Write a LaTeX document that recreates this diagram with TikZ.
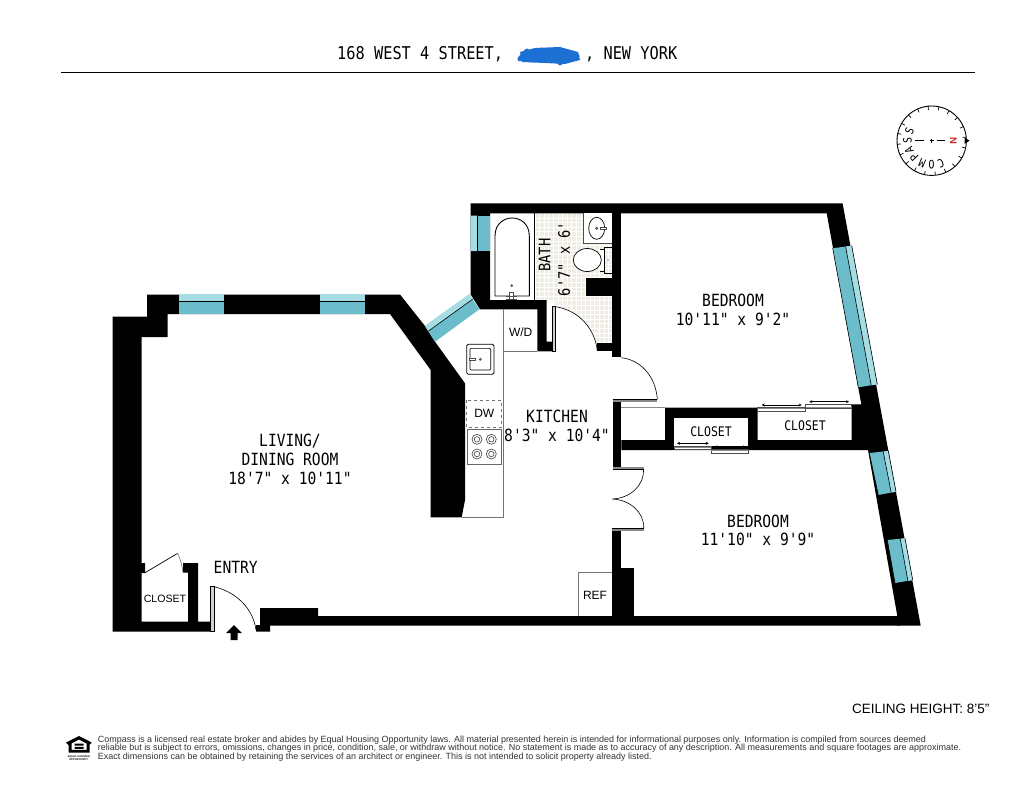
\documentclass[tikz,border=0pt]{standalone}
\usepackage{fontspec}
\usetikzlibrary{calc,arrows.meta}
\setmainfont{Liberation Sans}
\newfontfamily\planfont[FakeStretch=0.87]{DejaVu Sans Mono}
\definecolor{winA}{HTML}{6BBDCB}
\definecolor{winB}{HTML}{A6DCE3}
\definecolor{tile}{HTML}{EFEDE4}
\definecolor{panel}{HTML}{8A8A8A}
\definecolor{blob}{HTML}{1C6FD3}
\definecolor{fineprint}{HTML}{333333}
\tikzset{
  wall/.style={fill=black,draw=none},
  fineline/.style={draw=black!75,line width=0.55pt},
  fix/.style={draw=black,line width=0.7pt,fill=white},
  swing/.style={draw=black,line width=0.6pt},
  doorpanel/.style={draw=black,line width=0.5pt,fill=panel!40},
  roomtext/.style={font=\planfont\fontsize{16.8}{19}\selectfont,align=center,inner sep=0pt,text=black},
  bathtext/.style={font=\planfont\fontsize{15.8}{18}\selectfont,inner sep=0pt,rotate=90,text=black},
  closettext/.style={font=\planfont\fontsize{13.2}{15}\selectfont,inner sep=0pt},
  applitext/.style={font=\fontsize{12}{14}\selectfont,inner sep=0pt},
  slide/.style={{Stealth[length=3pt,width=3pt]}-{Stealth[length=3pt,width=3pt]},line width=0.5pt},
}
% window: outer edge a-b, inner edge d-c, position of the sash line
\newcommand{\glaze}[5]{%
  \coordinate (wa) at #1; \coordinate (wb) at #2; \coordinate (wc) at #3; \coordinate (wd) at #4;
  \coordinate (wp) at ($(wa)!#5!(wd)$); \coordinate (wq) at ($(wb)!#5!(wc)$);
  \fill[winA] (wa) -- (wb) -- (wc) -- (wd) -- cycle;
  \fill[winB] (wa) -- (wb) -- (wq) -- (wp) -- cycle;
  \draw[black,line width=0.6pt] (wp) -- (wq);
}
\begin{document}
\begin{tikzpicture}[x=1pt,y=-1pt]
\useasboundingbox (0,0) rectangle (1036,800);
\fill[white] (0,0) rectangle (1036,800);

% title
\node[roomtext,font=\planfont\fontsize{17.6}{20}\selectfont,anchor=west] (title1) at (337,54) {168 WEST 4 STREET,};
\node[roomtext,font=\planfont\fontsize{17.6}{20}\selectfont,anchor=east] (title2) at (677.5,54) {, NEW YORK};
\fill[blob] (520,52) -- (535,48) -- (560,47) -- (578,52) -- (580,60) -- (565,64) -- (545,63) -- (522,62) -- cycle;
\draw[blob,line width=5pt,line cap=round,line join=round]
  (520,59) -- (527,51) -- (533,60) -- (541,50) -- (548,60) -- (555,50) -- (560,63) -- (568,54) -- (577,56);
\draw[black,line width=1.2pt] (61,72.5) -- (975,72.5);

% tile floor
\begin{scope}
\clip (535,213.3) -- (612,213.3) -- (612,342.7) -- (597.3,342.7) -- (597.3,351) -- (555.3,351) -- (555.3,300) -- (535,300) -- cycle;
\fill[tile] (530,210) rectangle (615,355);
\foreach \gx in {0,...,17} \draw[white,line width=0.7pt] ({535+4.6*\gx},210) -- ({535+4.6*\gx},355);
\foreach \gy in {0,...,30} \draw[white,line width=0.7pt] (530,{213.3+4.6*\gy}) -- (615,{213.3+4.6*\gy});
\end{scope}
\fill[white] (555.3,300) -- (555.3,306.7) .. controls (578,310) and (595,328) .. (597.3,351) -- (555.3,351) -- cycle;

% walls
\fill[wall] (112.7,316.7) -- (147,316.7) -- (147,294.5) -- (400,294.5) -- (425,326) -- (435,341.7) -- (465,383.3) -- (465,500) -- (461.7,517.3) -- (430.7,517.3) -- (430.7,370) -- (390,314) -- (167.5,314) -- (167.5,337) -- (141.7,337) -- (141.7,563) -- (145,563) -- (145,573) -- (141.7,573) -- (141.7,621.7) -- (188,621.7) -- (188,572.7) -- (183,572.7) -- (183,563) -- (198,563) -- (198,621.7) -- (210.7,621.7) -- (210.7,631.7) -- (112.7,631.7) -- cycle;
\fill[wall] (470.7,203.3) -- (842.7,203.3) -- (842.7,213.3) -- (490,213.3) -- (490,300) -- (546.7,300) -- (546.7,341.7) -- (552.7,341.7) -- (552.7,351.3) -- (537.3,351.3) -- (537.3,309.3) -- (480,309.3) -- (470.7,294.5) -- cycle;
\fill[wall] (612,213.3) rectangle (621.3,356.7);
\fill[wall] (597.3,342.7) rectangle (612,351.3);
\fill[wall] (586,278.3) rectangle (612,296);
\fill[wall] (826.7,213.3) -- (842.7,204) -- (920.7,625.7) -- (897.3,625.7) -- (897.3,616) -- (868,450) -- (621.3,450) -- (621.3,440) -- (665,440) -- (665,407.7) -- (757.7,407.7) -- (757.7,440) -- (851.7,440) -- (851.7,404.3) -- (861.3,404.3) -- cycle;
\fill[white] (674.3,417.7) rectangle (748,446);
\fill[wall] (748,440) rectangle (757.7,450);
\fill[wall] (612.7,402) rectangle (621.3,468);
\fill[wall] (612.3,531) rectangle (621.3,616);
\fill[wall] (621.3,568.3) rectangle (634,616);
\fill[wall] (260,608) -- (318,608) -- (318,616) -- (900,616) -- (900,625.7) -- (270,625.7) -- (270,631.7) -- (256,631.7) -- (256,625) -- (260,625) -- cycle;

% windows
\glaze{(179,294.3)}{(224,294.3)}{(224,314)}{(179,314)}{0.35}
\glaze{(320,294.3)}{(365,294.3)}{(365,314)}{(320,314)}{0.35}
\glaze{(469.3,294.3)}{(425,326)}{(435,341.7)}{(479.3,309.3)}{0.33}
\glaze{(470.7,215.7)}{(470.7,251)}{(490,251)}{(490,215.7)}{0.36}
\glaze{(851.7,245.7)}{(877.3,384.3)}{(858.3,387.3)}{(832.7,248.3)}{0.32}
\glaze{(888.3,451)}{(896,491.7)}{(878.3,495)}{(869.3,453)}{0.27}
\glaze{(905,538.3)}{(912.7,580)}{(895,583)}{(887.3,540)}{0.27}
\draw[black,line width=0.6pt] (851.7,245.7) -- (877.3,384.3) (832.7,248.3) -- (858.3,387.3);
\draw[black,line width=0.6pt] (888.3,451) -- (896,491.7) (869.3,453) -- (878.3,495);
\draw[black,line width=0.6pt] (905,538.3) -- (912.7,580) (887.3,540) -- (895,583);

% bath fixtures
\draw[black,line width=0.7pt] (534,213.3) -- (534,300);
\draw[fix,line width=0.9pt] (495,296) -- (495,236) .. controls (495,212) and (529.3,212) .. (529.3,236) -- (529.3,296) -- cycle;
\fill[black!65] (511.7,285.7) circle (1.5);
\draw[black!70,line width=0.5pt,fill=white] (509.5,292) rectangle (513.5,299);
\draw[black!70,line width=0.5pt] (506,296.5) -- (517,296.5) (506,299) -- (517,299);
\fill[white] (583.3,213.3) rectangle (612,243.3);
\draw[black!70,line width=0.5pt] (583.3,213.3) -- (583.3,243.3) -- (612,243.3);
\draw[fix] (596.7,228.3) ellipse (8 and 11);
\fill[black!65] (596.7,228.3) circle (1.7);
\draw[black!70,line width=0.5pt,fill=white] (600,227.2) rectangle (606,229.6);
\fill[white] (600,250) rectangle (605,270);
\draw[black,line width=0.7pt] (600,249) -- (604,249) (600,271) -- (604,271);
\draw[fix] (587.3,260) ellipse (14 and 11.5);
\draw[fix] (604,247.3) -- (612,247.3) (604,273.3) -- (612,273.3) (604,247.3) -- (604,273.3);
\fill[black!50] (608,260) circle (0.8);

% kitchen
\draw[black!55,line width=0.7pt] (503,309.3) -- (503,517.3) -- (461.7,517.3);
\draw[black!55,line width=0.7pt] (503,351.3) -- (537.3,351.3);
\node[applitext] (wd) at (520.7,332.7) {W/D};
\draw[fix,line width=0.8pt,rounded corners=1.5pt] (466.7,344.3) rectangle (494,374.3);
\draw[fix,line width=0.6pt,rounded corners=1pt] (470,348.3) rectangle (490.7,370);
\fill[black!65] (480.3,359.3) circle (1.6);
\draw[black!70,line width=0.5pt,fill=white] (469,358) rectangle (475.5,360.6);
\draw[black!55,dashed,line width=0.6pt] (466.7,400) rectangle (501.7,427.3);
\node[applitext] (dw) at (484.3,413.3) {DW};
\draw[black!60,line width=0.7pt,fill=white] (467.3,429.3) rectangle (501.7,464);
\foreach \bx/\by in {477/439.3,491.3/439.3,477/454,491.3/454} {
  \draw[black!75,line width=0.6pt] (\bx,\by) circle (5);
  \draw[black!75,line width=0.6pt] (\bx,\by) circle (2.7);
}

% doors
\draw[doorpanel] (210.7,586.7) rectangle (214,631.7);
\draw[swing] (214,586.7) .. controls (236,592) and (253,608) .. (256,630);
\draw[doorpanel] (552.7,306.7) rectangle (555.3,351.3);
\draw[swing] (555.3,306.7) .. controls (578,310) and (595,328) .. (597.3,351);
\draw[swing] (621.3,357.7) .. controls (642,360) and (656,378) .. (657.3,399.3);
\fill[panel] (612.7,399.3) rectangle (657.3,402);
\draw[black,line width=0.4pt] (612.7,399.3) -- (657.3,399.3);
\draw[panel,line width=1pt] (621.3,407.3) -- (665,407.3);
\fill[panel] (612.7,467.3) rectangle (643.5,469.5);
\draw[black,line width=0.4pt] (612.7,469.5) -- (643.5,469.5);
\draw[swing] (643.5,469.5) .. controls (644,486) and (630,498) .. (612.7,499);
\draw[swing] (612.7,499) .. controls (630,500) and (644,512) .. (643.8,528);
\fill[panel] (612.3,528) rectangle (644,531);
\draw[black,line width=0.4pt] (612.3,528) -- (644,528);
\draw[black,line width=0.7pt] (145,572.7) -- (177.7,553.3);
\draw[black!55,line width=0.6pt] (177.7,553.3) .. controls (180,558) and (182,565) .. (183,572.7);

% closet sliders
\draw[black!70,line width=0.5pt,fill=white] (674.3,446) rectangle (711,449.5);
\draw[panel,line width=1pt] (674.3,447.3) -- (711,447.3);
\draw[black!70,line width=0.5pt,fill=white] (711,449.5) rectangle (748,453.3);
\draw[panel,line width=1pt] (711,450.5) -- (748,450.5);
\draw[black!70,line width=0.5pt,fill=white] (757.7,407.3) rectangle (805.7,411.3);
\draw[panel,line width=1pt] (757.7,408.5) -- (805.7,408.5);
\draw[black!70,line width=0.5pt,fill=white] (805.7,404.3) rectangle (851.7,408.7);
\draw[panel,line width=1pt] (805.7,407.2) -- (851.7,407.2);
\draw[slide] (677,443.3) -- (708.7,443.3);
\draw[slide] (714.3,446.8) -- (746,446.8);
\draw[slide] (761.7,405) -- (801.7,405);
\draw[slide] (809.3,401.7) -- (849,401.7);

% REF
\draw[black!55,line width=0.6pt] (612,572) -- (578,572) -- (578,616);
\node[applitext] (ref) at (595,595) {REF};

% entry arrow
\fill[black] (234,625) -- (242,633) -- (237.5,633) -- (237.5,640) -- (230.5,640) -- (230.5,633) -- (226,633) -- cycle;

% labels
\node[roomtext] (living) at (290,459.5) {LIVING/\\[-0.3pt]DINING ROOM\\[-0.3pt]18'7" x 10'11"};
\node[roomtext] (bedA) at (733,309.8) {BEDROOM\\[-0.3pt]10'11" x 9'2"};
\node[roomtext] (bedB) at (758,530.5) {BEDROOM\\[-0.3pt]11'10" x 9'9"};
\node[roomtext] (kitchen) at (557,426) {KITCHEN\\[-0.3pt]8'3" x 10'4"};
\node[roomtext] (entry) at (235.7,567.7) {ENTRY};
\node[bathtext] (bath) at (544.7,255) {BATH};
\node[bathtext] (bathdim) at (564,259) {6'7" x 6'};
\node[closettext] (closetA) at (711,432) {CLOSET};
\node[closettext] (closetB) at (805,426) {CLOSET};
\node[applitext,font=\fontsize{10.6}{12}\selectfont] (closetC) at (165,599) {CLOSET};

% compass
\draw[black,line width=0.9pt] (931.7,140.7) circle (34.7);
\foreach \ta in {0,...,19}
  \draw[black,line width=0.7pt] ($(931.7,140.7)+({6+18*\ta}:34.7 and -34.7)$) -- ($(931.7,140.7)+({6+18*\ta}:31 and -31)$);
\draw[black,line width=0.9pt] (915,140.7) -- (923.5,140.7) (929.5,140.7) -- (933.5,140.7) (931.5,138.5) -- (931.5,143) (936.5,140.7) -- (945,140.7);
\fill[black] (969.5,140.7) -- (964.5,137.5) -- (964.5,144) -- cycle;
\node[inner sep=0pt,rotate=-90,text={rgb,255:red,214;green,32;blue,40},font=\fontsize{9.5}{11}\bfseries\selectfont] (north) at (953.3,140.7) {N};
\foreach \ll/\aa [count=\ii] in {C/-68,O/-90.5,M/-113,P/-135.5,A/-158,S/-180.5,S/-203}
  \node[inner sep=0pt,rotate=\aa-90,font=\planfont\fontsize{11.5}{12}\selectfont] (cmp\ii) at ($(931.7,140.7)+(\aa:24.3 and -24.3)$) {\ll};

% ceiling height and legal text
\node[anchor=west,inner sep=0pt,font=\fontsize{13.5}{15}\selectfont] (ceil) at (852,709) {CEILING HEIGHT: 8'5"};
\node[anchor=west,inner sep=0pt,text=fineprint,font=\fontsize{8.97}{8.5}\selectfont,align=left] (legal) at (97.7,748.5)
 {Compass is a licensed real estate broker and abides by Equal Housing Opportunity laws. All material presented herein is intended for informational purposes only. Information is compiled from sources deemed\\
 reliable but is subject to errors, omissions, changes in price, condition, sale, or withdraw without notice. No statement is made as to accuracy of any description. All measurements and square footages are approximate.\\
 Exact dimensions can be obtained by retaining the services of an architect or engineer. This is not intended to solicit property already listed.};

% equal housing logo
\fill[black,even odd rule] (79,736) -- (91.7,742.5) -- (89.5,745) -- (89.5,752.5) -- (68.5,752.5) -- (68.5,745) -- (66,742.5) -- cycle
  (79,739.5) -- (86.5,743.5) -- (86.5,749.8) -- (71.5,749.8) -- (71.5,743.5) -- cycle;
\fill[black] (74.5,743.5) rectangle (83.5,745.5) (74.5,746.8) rectangle (83.5,748.8);
\node[inner sep=0pt,align=center,font=\fontsize{2.6}{3}\bfseries\selectfont] (eho) at (78.8,757.8) {EQUAL HOUSING\\OPPORTUNITY};
\end{tikzpicture}
\end{document}
